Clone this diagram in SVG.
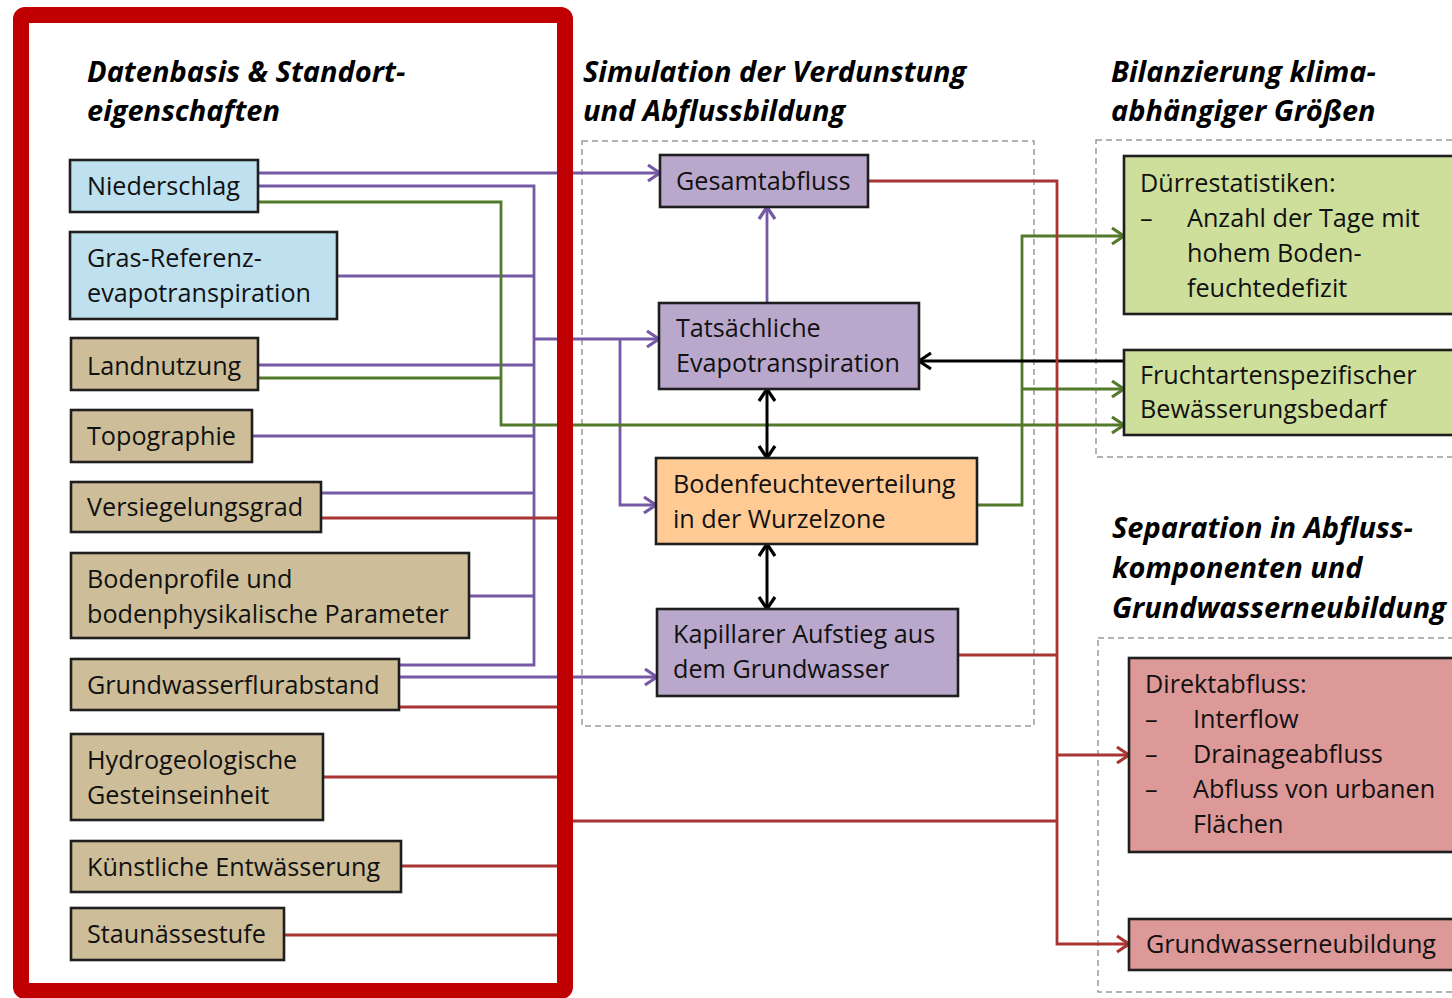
<svg xmlns="http://www.w3.org/2000/svg" width="1452" height="998" viewBox="0 0 1452 998">
  <defs>
    <style>
      .t { font-family: "Open Sans", "Liberation Sans", sans-serif; font-size: 25.2px; fill: #111; }
      .h { font-family: "Open Sans", "Liberation Sans", sans-serif; font-size: 29px; font-weight: bold; font-style: italic; fill: #000; }
      .box { stroke: #1e1e1e; stroke-width: 2.6; }
      .blue { fill: #BEE0EF; }
      .tan { fill: #CDBE99; }
      .lila { fill: #BAA8CC; }
      .orange { fill: #FFCA94; }
      .green { fill: #CEDF9C; }
      .pink { fill: #DD9898; }
      .dash { fill: none; stroke: #9a9a9a; stroke-width: 1.5; stroke-dasharray: 6 4; }
      .cp { fill: none; stroke: #7659A4; stroke-width: 2.8; }
      .cg { fill: none; stroke: #53792B; stroke-width: 2.8; }
      .cr { fill: none; stroke: #A83434; stroke-width: 2.8; }
      .ck { fill: none; stroke: #000; stroke-width: 3; }
    </style>
    <marker id="ap" viewBox="0 0 16 20" refX="14" refY="10" markerWidth="16" markerHeight="20" markerUnits="userSpaceOnUse" orient="auto-start-reverse">
      <path d="M2,2 L14,10 L2,18" fill="none" stroke="#7659A4" stroke-width="3.2"/>
    </marker>
    <marker id="ag" viewBox="0 0 16 20" refX="14" refY="10" markerWidth="16" markerHeight="20" markerUnits="userSpaceOnUse" orient="auto-start-reverse">
      <path d="M2,2 L14,10 L2,18" fill="none" stroke="#53792B" stroke-width="3.2"/>
    </marker>
    <marker id="ar" viewBox="0 0 16 20" refX="14" refY="10" markerWidth="16" markerHeight="20" markerUnits="userSpaceOnUse" orient="auto-start-reverse">
      <path d="M2,2 L14,10 L2,18" fill="none" stroke="#A83434" stroke-width="3.2"/>
    </marker>
    <marker id="ak" viewBox="0 0 16 20" refX="14" refY="10" markerWidth="16" markerHeight="20" markerUnits="userSpaceOnUse" orient="auto-start-reverse">
      <path d="M2,2 L14,10 L2,18" fill="none" stroke="#000" stroke-width="3.2"/>
    </marker>
  </defs>

  <rect width="1452" height="998" fill="#fff"/>

  <!-- section frames -->
  <g id="frames">
    <rect class="dash" x="582" y="141" width="452" height="585"/>
    <rect class="dash" x="1096" y="140" width="380" height="317"/>
    <rect class="dash" x="1098" y="638" width="380" height="354"/>
  </g>

  <!-- section headings -->
  <g id="headings">
    <text class="h" x="87" y="82">Datenbasis &amp; Standort-</text>
    <text class="h" x="87" y="121">eigenschaften</text>
    <text class="h" x="583" y="82">Simulation der Verdunstung</text>
    <text class="h" x="583" y="121">und Abflussbildung</text>
    <text class="h" x="1111" y="82">Bilanzierung klima-</text>
    <text class="h" x="1111" y="121">abhängiger Größen</text>
    <text class="h" x="1112" y="538">Separation in Abfluss-</text>
    <text class="h" x="1112" y="578">komponenten und</text>
    <text class="h" x="1112" y="618">Grundwasserneubildung</text>
  </g>

  <!-- connectors -->
  <g id="connectors">
    <!-- purple: inputs to evaporation / runoff -->
    <path class="cp" d="M258,173 H660" marker-end="url(#ap)"/>
    <path class="cp" d="M258,186 H534 V665 H399"/>
    <path class="cp" d="M337,276 H534"/>
    <path class="cp" d="M258,365 H534"/>
    <path class="cp" d="M252,436 H534"/>
    <path class="cp" d="M321,493 H534"/>
    <path class="cp" d="M469,596 H534"/>
    <path class="cp" d="M534,339 H659" marker-end="url(#ap)"/>
    <path class="cp" d="M620,339 V505 H656" marker-end="url(#ap)"/>
    <path class="cp" d="M399,677 H657" marker-end="url(#ap)"/>
    <path class="cp" d="M767,303 V207" marker-end="url(#ap)"/>

    <!-- green: irrigation and drought -->
    <path class="cg" d="M258,202 H501 V425 H1124" marker-end="url(#ag)"/>
    <path class="cg" d="M258,378 H501"/>
    <path class="cg" d="M977,505 H1022 V236 H1124" marker-end="url(#ag)"/>
    <path class="cg" d="M1022,389 H1124" marker-end="url(#ag)"/>

    <!-- black: soil water exchange -->
    <path class="ck" d="M1124,361 H919" marker-end="url(#ak)"/>
    <path class="ck" d="M767,389 V458" marker-start="url(#ak)" marker-end="url(#ak)"/>
    <path class="ck" d="M767,544 V609" marker-start="url(#ak)" marker-end="url(#ak)"/>

    <!-- red: runoff separation -->
    <path class="cr" d="M321,518 H560"/>
    <path class="cr" d="M399,707 H560"/>
    <path class="cr" d="M323,777 H560"/>
    <path class="cr" d="M401,866 H560"/>
    <path class="cr" d="M284,935 H560"/>
    <path class="cr" d="M868,181 H1057 V944 H1129" marker-end="url(#ar)"/>
    <path class="cr" d="M958,655 H1057"/>
    <path class="cr" d="M570,821 H1057"/>
    <path class="cr" d="M1057,755 H1129" marker-end="url(#ar)"/>
  </g>

  <!-- data basis frame -->
  <g id="datenbasis-frame">
    <rect x="21" y="15" width="544" height="976" rx="4" fill="none" stroke="#C00000" stroke-width="16"/>
  </g>

  <!-- input data nodes -->
  <g id="niederschlag">
    <rect class="box blue" x="70" y="160" width="188" height="52"/>
    <text class="t" x="87" y="195">Niederschlag</text>
  </g>
  <g id="gras-referenz">
    <rect class="box blue" x="70" y="232" width="267" height="87"/>
    <text class="t" x="87" y="267">Gras-Referenz-</text>
    <text class="t" x="87" y="302">evapotranspiration</text>
  </g>
  <g id="landnutzung">
    <rect class="box tan" x="71" y="338" width="187" height="52"/>
    <text class="t" x="87" y="375">Landnutzung</text>
  </g>
  <g id="topographie">
    <rect class="box tan" x="71" y="410" width="181" height="52"/>
    <text class="t" x="87" y="445">Topographie</text>
  </g>
  <g id="versiegelungsgrad">
    <rect class="box tan" x="71" y="482" width="250" height="50"/>
    <text class="t" x="87" y="516">Versiegelungsgrad</text>
  </g>
  <g id="bodenprofile">
    <rect class="box tan" x="71" y="553" width="398" height="85"/>
    <text class="t" x="87" y="588">Bodenprofile und</text>
    <text class="t" x="87" y="623">bodenphysikalische Parameter</text>
  </g>
  <g id="grundwasserflurabstand">
    <rect class="box tan" x="71" y="659" width="328" height="51"/>
    <text class="t" x="87" y="694">Grundwasserflurabstand</text>
  </g>
  <g id="hydrogeologie">
    <rect class="box tan" x="71" y="734" width="252" height="86"/>
    <text class="t" x="87" y="769">Hydrogeologische</text>
    <text class="t" x="87" y="804">Gesteinseinheit</text>
  </g>
  <g id="entwaesserung">
    <rect class="box tan" x="71" y="841" width="330" height="51"/>
    <text class="t" x="87" y="876">Künstliche Entwässerung</text>
  </g>
  <g id="staunaessestufe">
    <rect class="box tan" x="71" y="908" width="213" height="52"/>
    <text class="t" x="87" y="943">Staunässestufe</text>
  </g>

  <!-- simulation nodes -->
  <g id="gesamtabfluss">
    <rect class="box lila" x="660" y="155" width="208" height="52"/>
    <text class="t" x="676" y="190">Gesamtabfluss</text>
  </g>
  <g id="evapotranspiration">
    <rect class="box lila" x="659" y="303" width="260" height="86"/>
    <text class="t" x="676" y="337">Tatsächliche</text>
    <text class="t" x="676" y="372">Evapotranspiration</text>
  </g>
  <g id="bodenfeuchte">
    <rect class="box orange" x="656" y="458" width="321" height="86"/>
    <text class="t" x="673" y="493">Bodenfeuchteverteilung</text>
    <text class="t" x="673" y="528">in der Wurzelzone</text>
  </g>
  <g id="kapillaraufstieg">
    <rect class="box lila" x="657" y="609" width="301" height="87"/>
    <text class="t" x="673" y="643">Kapillarer Aufstieg aus</text>
    <text class="t" x="673" y="678">dem Grundwasser</text>
  </g>

  <!-- balance nodes -->
  <g id="duerrestatistiken">
    <rect class="box green" x="1124" y="156" width="340" height="158"/>
    <text class="t" x="1140" y="192">Dürrestatistiken:</text>
    <text class="t" x="1140" y="227">–</text>
    <text class="t" x="1187" y="227">Anzahl der Tage mit</text>
    <text class="t" x="1187" y="262">hohem Boden-</text>
    <text class="t" x="1187" y="297">feuchtedefizit</text>
  </g>
  <g id="bewaesserungsbedarf">
    <rect class="box green" x="1124" y="350" width="340" height="85"/>
    <text class="t" x="1140" y="384">Fruchtartenspezifischer</text>
    <text class="t" x="1140" y="418">Bewässerungsbedarf</text>
  </g>

  <!-- runoff component nodes -->
  <g id="direktabfluss">
    <rect class="box pink" x="1129" y="658" width="335" height="194"/>
    <text class="t" x="1145" y="693">Direktabfluss:</text>
    <text class="t" x="1145" y="728">–</text>
    <text class="t" x="1193" y="728">Interflow</text>
    <text class="t" x="1145" y="763">–</text>
    <text class="t" x="1193" y="763">Drainageabfluss</text>
    <text class="t" x="1145" y="798">–</text>
    <text class="t" x="1193" y="798">Abfluss von urbanen</text>
    <text class="t" x="1193" y="833">Flächen</text>
  </g>
  <g id="grundwasserneubildung">
    <rect class="box pink" x="1129" y="919" width="335" height="51"/>
    <text class="t" x="1146" y="953">Grundwasserneubildung</text>
  </g>
</svg>
